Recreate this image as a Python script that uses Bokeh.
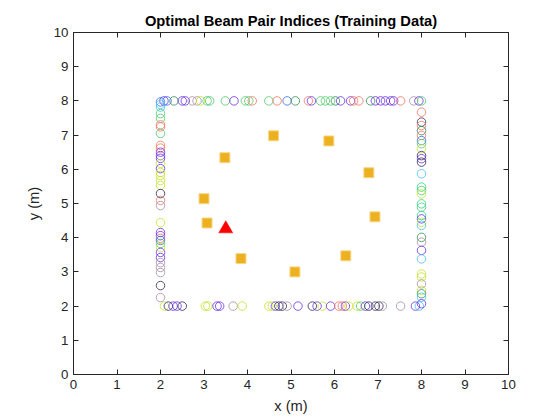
from bokeh.plotting import figure
from bokeh.models import LinearAxis, Range1d, FixedTicker
from bokeh.embed import file_html
from bokeh.resources import INLINE

# Beam index colour table (one entry per optimal beam pair index)
BEAM_COLORS = ["#f4725f", "#2f2a58", "#6a30e6", "#4cc86a", "#2f8f55",
               "#c4e22a", "#a48ea2", "#3468f0", "#42bff0", "#22d48c"]

# Training positions along the top edge (y = 8)
top_x = [2.08, 2.15, 2.31, 2.50, 2.57, 2.73, 2.84, 2.92, 3.07, 3.13, 3.49, 3.69,
         3.95, 4.03, 4.11, 4.49, 4.68, 4.91, 5.10, 5.40, 5.47, 5.68, 5.79, 5.91,
         6.02, 6.14, 6.37, 6.44, 6.56, 6.83, 6.94, 7.06, 7.17, 7.29, 7.36, 7.52,
         7.82, 7.94, 8.00]
top_beam = [2, 7, 4, 2, 2, 6, 6, 5, 3, 3, 3, 2,
            3, 3, 0, 3, 0, 7, 4, 0, 2, 3, 3, 3,
            4, 2, 2, 0, 0, 4, 2, 2, 2, 2, 2, 0,
            6, 2, 3]

# Training positions along the bottom edge (y = 2)
bottom_x = [2.09, 2.18, 2.29, 2.38, 2.50, 3.03, 3.09, 3.30, 3.36, 3.67, 3.88,
            4.49, 4.57, 4.64, 4.72, 4.80, 4.91, 5.16, 5.49, 5.60, 5.72, 5.91,
            6.10, 6.18, 6.25, 6.33, 6.52, 6.60, 6.71, 6.79, 6.94, 7.02, 7.10,
            7.52, 7.86, 7.95]
bottom_beam = [5, 1, 2, 2, 1, 5, 5, 2, 2, 6, 5,
               5, 5, 2, 1, 1, 6, 2, 1, 2, 5, 2,
               0, 0, 2, 5, 5, 3, 2, 1, 1, 1, 6,
               6, 2, 8]

# Training positions along the left edge (x = 2)
left_y = [7.97, 7.90, 7.82, 7.63, 7.49, 7.30, 7.24, 7.05, 6.70, 6.62, 6.50, 6.40,
          6.32, 6.17, 6.02, 5.91, 5.82, 5.67, 5.53, 5.29, 5.09, 4.94, 4.44, 4.15,
          4.06, 3.98, 3.92, 3.83, 3.71, 3.57, 3.42, 3.27, 3.13, 2.98, 2.60, 2.25]
left_beam = [7, 8, 8, 3, 3, 0, 0, 3, 0, 0, 2, 2,
             2, 5, 2, 5, 5, 5, 5, 1, 0, 6, 5, 2,
             2, 0, 7, 3, 5, 2, 2, 6, 6, 6, 1, 6]

# Training positions along the right edge (x = 8)
right_y = [7.67, 7.38, 7.28, 7.13, 6.99, 6.84, 6.75, 6.60, 6.40, 6.31, 6.21, 5.87,
           5.48, 5.38, 5.28, 4.99, 4.89, 4.65, 4.55, 4.45, 4.36, 4.01, 3.87, 3.63,
           3.38, 2.94, 2.85, 2.65, 2.46, 2.36, 2.26, 2.07]
right_beam = [0, 1, 0, 4, 0, 7, 3, 5, 1, 2, 1, 8,
              9, 3, 5, 9, 3, 9, 2, 5, 8, 4, 6, 2,
              8, 5, 5, 6, 5, 4, 8, 2]

# Access point locations
ap_x = [4.60, 5.87, 3.48, 6.79, 3.00, 6.93, 3.07, 3.85, 6.26, 5.09]
ap_y = [6.98, 6.83, 6.34, 5.90, 5.14, 4.61, 4.43, 3.39, 3.47, 3.00]

# Test user location
user_x = [3.50]
user_y = [4.26]

xs = top_x + bottom_x + [2.0] * len(left_y) + [8.0] * len(right_y)
ys = [8.0] * len(top_x) + [2.0] * len(bottom_x) + left_y + right_y
beams = top_beam + bottom_beam + left_beam + right_beam
colors = [BEAM_COLORS[b] for b in beams]

TXT = "#262626"
FONT = "Liberation Sans"

p = figure(width=560, height=420, output_backend="svg", toolbar_location=None,
           x_range=Range1d(0, 10), y_range=Range1d(0, 10),
           min_border_left=73, min_border_right=52, min_border_top=32,
           min_border_bottom=46, background_fill_color="white",
           border_fill_color="white")

p.title.text = "Optimal Beam Pair Indices (Training Data)"
p.title.align = "center"
p.title.text_font = FONT
p.title.text_font_size = "14.7px"
p.title.text_font_style = "bold"
p.title.text_color = "black"
p.title.offset = 0
p.title.standoff = 8

p.xgrid.visible = False
p.ygrid.visible = False
p.outline_line_color = TXT
p.outline_line_width = 0.8

ticks = FixedTicker(ticks=list(range(0, 11)))
for ax in (p.xaxis[0], p.yaxis[0]):
    ax.ticker = ticks
    ax.major_tick_in = 5
    ax.major_tick_out = 0
    ax.minor_tick_line_color = None
    ax.axis_line_color = TXT
    ax.major_tick_line_color = TXT
    ax.major_label_text_font = FONT
    ax.major_label_text_font_size = "13.3px"
    ax.major_label_text_color = TXT
    ax.axis_label_text_font = FONT
    ax.axis_label_text_font_size = "14.7px"
    ax.axis_label_text_font_style = "normal"
    ax.axis_label_text_color = TXT
    ax.major_label_standoff = 5
p.xaxis.axis_label = "x (m)"
p.yaxis.axis_label = "y (m)"
p.xaxis.axis_label_standoff = 6
p.yaxis.axis_label_standoff = 9

for side in ("above", "right"):
    ax = LinearAxis(ticker=ticks, major_tick_in=5, major_tick_out=0,
                    minor_tick_line_color=None, axis_line_color=TXT,
                    major_tick_line_color=TXT, major_label_text_font_size="0px",
                    major_label_standoff=0)
    p.add_layout(ax, side)

p.scatter(xs, ys, marker="circle", size=8.5, fill_color=None,
          line_color=colors, line_width=0.8)
p.scatter(ap_x, ap_y, marker="square", size=10, fill_color="#EDB120",
          line_color="#F5D889", line_width=1)
p.scatter(user_x, user_y, marker="triangle", size=14, fill_color="#FF0000",
          line_color="#FF0000", line_width=0.5)

open("out.html", "w").write(file_html(p, INLINE))
